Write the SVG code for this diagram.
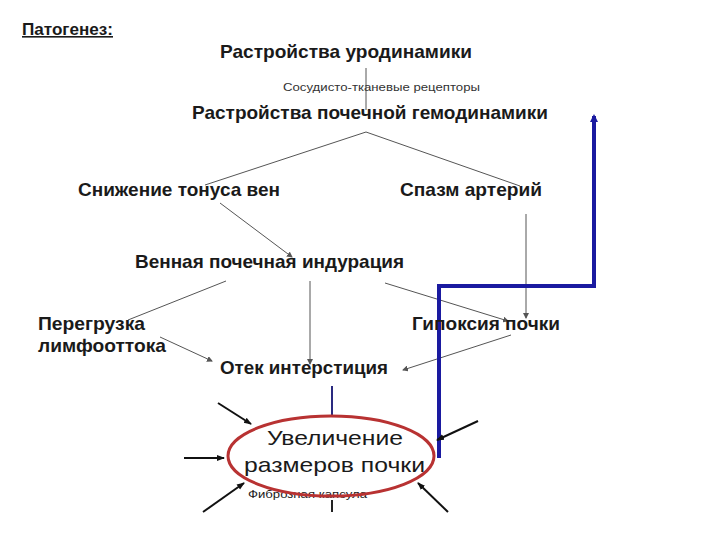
<svg xmlns="http://www.w3.org/2000/svg" width="720" height="540" viewBox="0 0 720 540">
<style>
text{font-family:"Liberation Sans",Arial,sans-serif;fill:#1a1a1a}
.b{font-weight:bold;font-size:18.5px}
.s{font-size:11.5px;fill:#333}
.e{font-size:21px}
.thin{stroke:#555;stroke-width:1;fill:none}
.blk{stroke:#111;stroke-width:2;fill:none}
</style>
<defs>
<marker id="a" markerWidth="6" markerHeight="6" refX="5" refY="3" orient="auto" markerUnits="userSpaceOnUse"><path d="M0,0 L6,3 L0,6 z" fill="#555"/></marker>
<marker id="ab" markerWidth="8" markerHeight="8" refX="7" refY="4" orient="auto" markerUnits="userSpaceOnUse"><path d="M0,1 L8,4 L0,7 z" fill="#111"/></marker>
<marker id="au" markerWidth="8" markerHeight="8" refX="6" refY="4" orient="auto" markerUnits="userSpaceOnUse"><path d="M0,0 L8,4 L0,8 z" fill="#1a1aa0"/></marker>
</defs>
<rect width="720" height="540" fill="#fff"/>
<g id="title"><text x="22" y="35" font-size="16" font-weight="bold" fill="#333" text-decoration="underline" textLength="91" lengthAdjust="spacingAndGlyphs">Патогенез:</text></g>
<g id="connectors">
<line class="thin" x1="366" y1="68" x2="366" y2="110"/>
<polyline class="thin" points="205,185 366,132 520,186"/>
<line class="thin" x1="220" y1="203" x2="292" y2="257" marker-end="url(#a)"/>
<line class="thin" x1="526" y1="214" x2="526" y2="318" marker-end="url(#a)"/>
<line class="thin" x1="226" y1="281" x2="128" y2="320"/>
<line class="thin" x1="310" y1="281" x2="310" y2="364" marker-end="url(#a)"/>
<line class="thin" x1="385" y1="283" x2="508" y2="321" marker-end="url(#a)"/>
<line class="thin" x1="160" y1="337" x2="212" y2="361" marker-end="url(#a)"/>
<line class="thin" x1="511" y1="335" x2="403" y2="370" marker-end="url(#a)"/>
<line x1="332" y1="386" x2="332" y2="416" stroke="#2a2a80" stroke-width="2"/>
<line x1="332" y1="500" x2="332" y2="512" stroke="#222" stroke-width="2"/>
<polyline points="439,458 439,286 594,286 594,116" fill="none" stroke="#1a1aa0" stroke-width="4" marker-end="url(#au)"/>
<line class="blk" x1="218" y1="403" x2="251" y2="424" marker-end="url(#ab)"/>
<line class="blk" x1="184" y1="458" x2="224" y2="458" marker-end="url(#ab)"/>
<line class="blk" x1="203" y1="512" x2="244" y2="483" marker-end="url(#ab)"/>
<line class="blk" x1="478" y1="421" x2="437" y2="440" marker-end="url(#ab)"/>
<line class="blk" x1="448" y1="512" x2="418" y2="483" marker-end="url(#ab)"/>
</g>
<g id="n1"><text class="b" x="220" y="58" textLength="252" lengthAdjust="spacingAndGlyphs">Растройства уродинамики</text></g>
<g id="n1b"><text class="s" x="283" y="91" textLength="197" lengthAdjust="spacingAndGlyphs">Сосудисто-тканевые рецепторы</text></g>
<g id="n2"><text class="b" x="192" y="119" textLength="356" lengthAdjust="spacingAndGlyphs">Растройства почечной гемодинамики</text></g>
<g id="n3"><text class="b" x="78" y="196" textLength="202" lengthAdjust="spacingAndGlyphs">Снижение тонуса вен</text></g>
<g id="n4"><text class="b" x="400" y="196" textLength="142" lengthAdjust="spacingAndGlyphs">Спазм артерий</text></g>
<g id="n5"><text class="b" x="135" y="268" textLength="269" lengthAdjust="spacingAndGlyphs">Венная почечная индурация</text></g>
<g id="n6"><text class="b" x="38" y="330" textLength="107" lengthAdjust="spacingAndGlyphs">Перегрузка</text><text class="b" x="38" y="352" textLength="128" lengthAdjust="spacingAndGlyphs">лимфооттока</text></g>
<g id="n7"><text class="b" x="412" y="330" textLength="148" lengthAdjust="spacingAndGlyphs">Гипоксия почки</text></g>
<g id="n8"><text class="b" x="220" y="374" textLength="168" lengthAdjust="spacingAndGlyphs">Отек интерстиция</text></g>
<g id="n9">
<text x="248" y="498" font-size="11" fill="#222" textLength="119" lengthAdjust="spacingAndGlyphs">Фиброзная капсула</text>
<ellipse cx="331" cy="456" rx="103" ry="40" fill="none" stroke="#b83232" stroke-width="3"/>
<text class="e" x="267" y="445" textLength="136" lengthAdjust="spacingAndGlyphs">Увеличение</text>
<text class="e" x="244" y="472" textLength="181" lengthAdjust="spacingAndGlyphs">размеров почки</text>
</g>
</svg>
